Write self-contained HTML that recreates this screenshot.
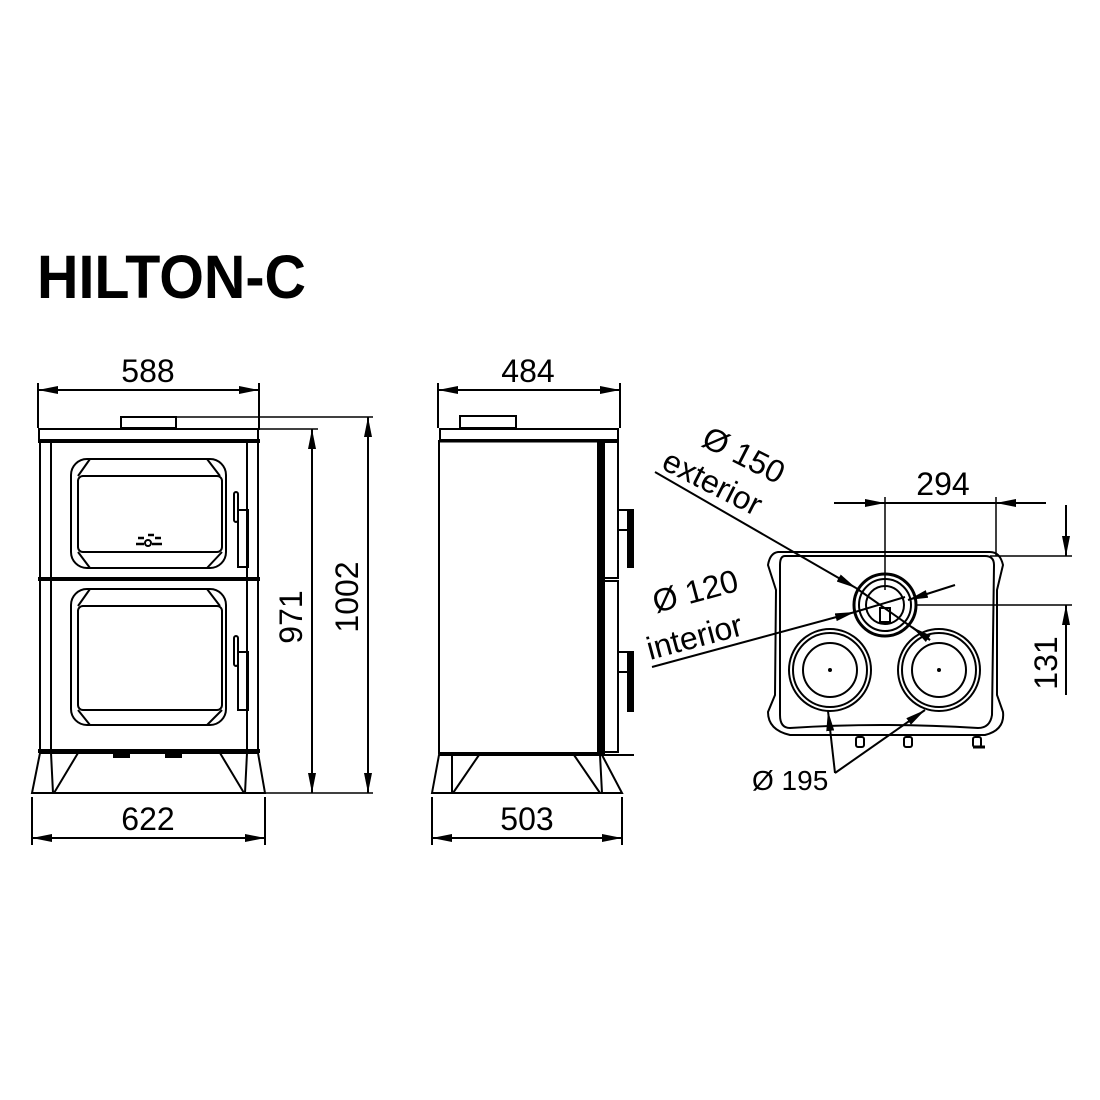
<!DOCTYPE html>
<html><head><style>html,body{margin:0;padding:0;background:#fff}svg{display:block}</style></head><body>
<svg width="1100" height="1100" viewBox="0 0 1100 1100" xmlns="http://www.w3.org/2000/svg" font-family="Liberation Sans, sans-serif">
<defs>
<marker id="a" viewBox="0 0 20 8" refX="20" refY="4" markerWidth="20" markerHeight="8" markerUnits="userSpaceOnUse" orient="auto-start-reverse"><path d="M0,0 L20,4 L0,8z" fill="#000"/></marker>
</defs>
<rect width="1100" height="1100" fill="#fff"/>
<text x="37" y="298" font-size="61" font-weight="bold" textLength="269" lengthAdjust="spacingAndGlyphs">HILTON-C</text>

<g stroke="#000" fill="none" stroke-width="2">
<!-- FRONT VIEW -->
<line x1="38" y1="383" x2="38" y2="428"/><line x1="259" y1="383" x2="259" y2="430"/>
<line x1="38" y1="390" x2="259" y2="390" marker-start="url(#a)" marker-end="url(#a)"/>
<rect x="121" y="417" width="55" height="11"/>
<rect x="39" y="429" width="219" height="12"/>
<rect x="40" y="441" width="218" height="312"/>
<line x1="51" y1="441" x2="51" y2="751"/><line x1="247" y1="441" x2="247" y2="751"/>
<line x1="38" y1="441" x2="260" y2="441" stroke-width="4"/>
<line x1="38" y1="579" x2="260" y2="579" stroke-width="4"/>
<line x1="38" y1="751" x2="260" y2="751" stroke-width="4"/>
<rect x="71" y="459" width="155" height="109" rx="16"/>
<rect x="78" y="476" width="144" height="76" rx="5"/>
<path d="M90,459 L78,476 M207,459 L220,476 M78,552 L90,568 M222,552 L207,568"/>
<rect x="71" y="589" width="155" height="136" rx="16"/>
<rect x="78" y="606" width="144" height="104" rx="5"/>
<path d="M90,589 L78,606 M207,589 L220,606 M78,710 L90,725 M222,710 L207,725"/>
<rect x="238" y="510" width="10" height="57"/>
<rect x="234" y="492" width="4" height="30" rx="2"/>
<rect x="238" y="652" width="10" height="58"/>
<rect x="234" y="636" width="4" height="30" rx="2"/>
<path d="M32,793 L40,753 L258,753 L265,793 Z"/>
<path d="M51,753 L53,793 M78,753 L54,793 M247,753 L245,793 M220,753 L244,793"/>
<rect x="114" y="753" width="15" height="4" fill="#000"/>
<rect x="166" y="753" width="15" height="4" fill="#000"/>
<circle cx="148" cy="543" r="3"/>
<path d="M136,544 h8 M152,544 h10 M138,538 h6 M148,535 h6 M155,538 h6" stroke-width="2.5"/>
<!-- 971 / 1002 -->
<line x1="176" y1="417" x2="373" y2="417" stroke-width="1.5"/>
<line x1="258" y1="429" x2="318" y2="429" stroke-width="1.5"/>
<line x1="248" y1="793" x2="373" y2="793" stroke-width="1.5"/>
<line x1="312" y1="429" x2="312" y2="793" marker-start="url(#a)" marker-end="url(#a)"/>
<line x1="368" y1="417" x2="368" y2="793" marker-start="url(#a)" marker-end="url(#a)"/>
<line x1="32" y1="797" x2="32" y2="845"/><line x1="265" y1="797" x2="265" y2="845"/>
<line x1="32" y1="838" x2="265" y2="838" marker-start="url(#a)" marker-end="url(#a)"/>

<!-- SIDE VIEW -->
<line x1="438" y1="383" x2="438" y2="428"/><line x1="620" y1="383" x2="620" y2="428"/>
<line x1="438" y1="390" x2="620" y2="390" marker-start="url(#a)" marker-end="url(#a)"/>
<rect x="460" y="416" width="56" height="12"/>
<rect x="440" y="429" width="178" height="11"/>
<line x1="440" y1="441" x2="600" y2="441" stroke-width="3"/>
<rect x="439" y="441" width="160" height="312"/>
<rect x="598" y="441" width="6" height="312" fill="#000"/>
<rect x="604" y="442" width="14" height="136"/>
<rect x="604" y="581" width="14" height="171"/>
<rect x="618" y="510" width="10" height="20"/>
<rect x="628" y="510" width="5" height="57" fill="#000"/>
<rect x="618" y="652" width="10" height="20"/>
<rect x="628" y="652" width="5" height="59" fill="#000"/>
<line x1="600" y1="755" x2="634" y2="755"/>
<path d="M432,793 L439,755 L602,755 L622,793 Z"/>
<path d="M452,755 L452,793 M479,755 L453,793 M600,755 L602,793 M574,755 L600,793"/>
<line x1="432" y1="797" x2="432" y2="845"/><line x1="622" y1="797" x2="622" y2="845"/>
<line x1="432" y1="838" x2="622" y2="838" marker-start="url(#a)" marker-end="url(#a)"/>

<!-- TOP VIEW -->
<path d="M778,552 Q770,553 768,565 L776,590 L775,695 L768,712 Q768,730 790,735 L985,735 Q1005,730 1003,712 L997,695 L997,590 L1003,565 Q1000,552 990,552 Z"/>
<path d="M785,556 L985,556 Q994,556 994,565 L992,715 Q990,728 978,728 Q880,722 790,728 Q780,728 780,715 L780,565 Q780,556 785,556Z"/>
<circle cx="885" cy="605" r="31" stroke-width="3"/>
<circle cx="885" cy="605" r="26"/>
<circle cx="885" cy="605" r="19"/>
<rect x="880" y="608" width="10" height="14"/>
<circle cx="830" cy="670" r="41"/><circle cx="830" cy="670" r="37"/><circle cx="830" cy="670" r="27"/>
<circle cx="939" cy="670" r="41"/><circle cx="939" cy="670" r="37"/><circle cx="939" cy="670" r="27"/>
<circle cx="830" cy="670" r="1" fill="#000"/><circle cx="939" cy="670" r="1" fill="#000"/>
<rect x="856" y="737" width="8" height="10" rx="2"/>
<rect x="904" y="737" width="8" height="10" rx="2"/>
<rect x="973" y="737" width="8" height="10" rx="2"/>
<line x1="973" y1="747" x2="985" y2="747" stroke-width="3"/>
<!-- 294 -->
<line x1="885" y1="497" x2="885" y2="590" stroke-width="1.5"/>
<line x1="996" y1="497" x2="996" y2="556" stroke-width="1.5"/>
<line x1="834" y1="503" x2="885" y2="503" marker-end="url(#a)"/>
<line x1="1046" y1="503" x2="996" y2="503" marker-end="url(#a)"/>
<line x1="885" y1="503" x2="996" y2="503"/>
<!-- 131 -->
<line x1="990" y1="556" x2="1072" y2="556" stroke-width="1.5"/>
<line x1="915" y1="605" x2="1072" y2="605" stroke-width="1.5"/>
<line x1="1066" y1="505" x2="1066" y2="556" marker-end="url(#a)"/>
<line x1="1066" y1="695" x2="1066" y2="605" marker-end="url(#a)"/>
<!-- leaders -->
<line x1="655" y1="472" x2="856" y2="588" marker-end="url(#a)"/>
<line x1="856" y1="588" x2="930" y2="640"/>
<line x1="930" y1="640" x2="912" y2="627" marker-end="url(#a)"/>
<line x1="955" y1="585" x2="908" y2="600" marker-end="url(#a)"/>
<line x1="652" y1="667" x2="855" y2="612" marker-end="url(#a)"/>
<line x1="855" y1="612" x2="905" y2="597"/>
<line x1="835" y1="773" x2="828" y2="711" marker-end="url(#a)"/>
<line x1="835" y1="773" x2="925" y2="710" marker-end="url(#a)"/>
</g>

<g font-size="32" fill="#000">
<text x="148" y="382" text-anchor="middle">588</text>
<text x="148" y="830" text-anchor="middle">622</text>
<text x="528" y="382" text-anchor="middle">484</text>
<text x="527" y="830" text-anchor="middle">503</text>
<text transform="translate(302,617) rotate(-90)" text-anchor="middle">971</text>
<text transform="translate(358,597) rotate(-90)" text-anchor="middle">1002</text>
<text x="943" y="495" text-anchor="middle">294</text>
<text transform="translate(1057,663) rotate(-90)" text-anchor="middle">131</text>
<text transform="translate(700,445) rotate(27)">Ø 150</text>
<text transform="translate(660,468) rotate(27)">exterior</text>
<text transform="translate(656,613) rotate(-15)">Ø 120</text>
<text transform="translate(650,660) rotate(-15)">interior</text>
<text x="752" y="790" font-size="28">Ø 195</text>
</g>
</svg>
</body></html>
